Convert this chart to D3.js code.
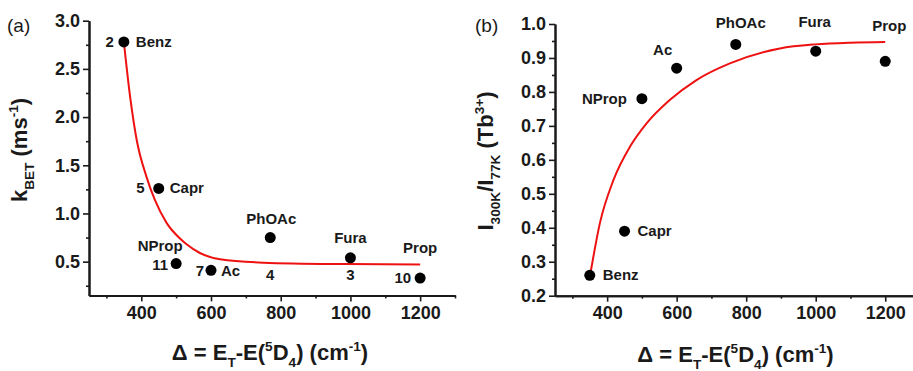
<!DOCTYPE html>
<html>
<head>
<meta charset="utf-8">
<script src="https://cdn.jsdelivr.net/npm/d3@7"></script>
<style>
  body { margin: 0; background: #fff; }
  svg { display: block; font-family: 'Liberation Sans', Arial, sans-serif; }
</style>
</head>
<body>
<div id="chart"></div>
<script>
// Ligands and their triplet-to-5D4 energy gap (cm-1)
const ligandNames = ['Benz', 'Capr', 'NProp', 'Ac', 'PhOAc', 'Fura', 'Prop']
const compoundNumbers = ['2', '5', '11', '7', '4', '3', '10']
const deltaValues = [350, 450, 500, 600, 770, 1000, 1200]

// (a) back energy transfer rate, ms-1
const kBetValues = [2.78, 1.26, 0.48, 0.41, 0.75, 0.54, 0.33]
// (b) I300K / I77K ratio
const ratioValues = [0.26, 0.39, 0.78, 0.87, 0.94, 0.92, 0.89]

// fitted curves
const kBetFitX = [350, 368, 387, 415, 439, 473, 511, 530, 568, 626, 750, 990, 1200]
const kBetFitY = [2.78, 2.21, 1.76, 1.38, 1.14, 0.90, 0.74, 0.68, 0.59, 0.525, 0.49, 0.475, 0.47]
const ratioFitX = [352, 379, 418, 466, 514, 580, 657, 753, 897, 1000, 1100, 1200]
const ratioFitY = [0.266, 0.413, 0.54, 0.639, 0.708, 0.776, 0.835, 0.884, 0.928, 0.940, 0.945, 0.947]

// ticks
const xTicks = [400, 600, 800, 1000, 1200]
const xMinorTicks = [300, 500, 700, 900, 1100, 1300]
const kBetTicks = [0.5, 1.0, 1.5, 2.0, 2.5, 3.0]
const kBetMinorTicks = [0.25, 0.75, 1.25, 1.75, 2.25, 2.75]
const ratioTicks = [0.2, 0.3, 0.4, 0.5, 0.6, 0.7, 0.8, 0.9, 1.0]
const ratioMinorTicks = [0.25, 0.35, 0.45, 0.55, 0.65, 0.75, 0.85, 0.95]

const ink = '#1a1a1a'

const svg = d3.select('#chart')
  .append('svg')
  .attr('width', 913)
  .attr('height', 371)

// Write text with sub/superscript parts into a text element
function richText(sel, parts, size) {
  let shift = 0
  parts.forEach(([txt, kind]) => {
    const target = kind === 'sub' ? 0.3 * size : kind === 'sup' ? -0.42 * size : 0
    sel.append('tspan')
      .attr('dy', target - shift)
      .attr('font-size', kind ? size * 0.62 : size)
      .text(txt)
    shift = target
  })
}

const xTitleParts = [['Δ = E'], ['T', 'sub'], ['-E('], ['5', 'sup'], ['D'], ['4', 'sub'], [') (cm'], ['-1', 'sup'], [')']]

function styleTickText(a) {
  a.selectAll('.tick text')
    .attr('font-size', 18)
    .attr('font-weight', 'bold')
    .attr('font-family', 'Liberation Sans, Arial, sans-serif')
    .attr('fill', ink)
}

function drawPanel(p) {
  const x = d3.scaleLinear().domain([250, 1300]).range(p.xRange)
  const y = d3.scaleLinear().domain(p.yDomain).range(p.yRange)
  const g = svg.append('g')

  // X axis, major then minor ticks
  g.append('g')
    .attr('transform', `translate(0,${p.yRange[0]})`)
    .call(d3.axisBottom(x).tickValues(xTicks).tickSize(6).tickSizeOuter(0).tickPadding(5)
      .tickFormat(d3.format('d')))
    .call(styleTickText)
  g.append('g')
    .attr('transform', `translate(0,${p.yRange[0]})`)
    .call(d3.axisBottom(x).tickValues(xMinorTicks).tickSize(3).tickSizeOuter(0).tickFormat(''))

  // Y axis
  g.append('g')
    .attr('transform', `translate(${p.xRange[0]},0)`)
    .call(d3.axisLeft(y).tickValues(p.yTicks).tickSize(6).tickSizeOuter(0).tickPadding(3)
      .tickFormat(d3.format('.1f')))
    .call(styleTickText)
  g.append('g')
    .attr('transform', `translate(${p.xRange[0]},0)`)
    .call(d3.axisLeft(y).tickValues(p.yMinorTicks).tickSize(3).tickSizeOuter(0).tickFormat(''))

  g.selectAll('.domain').attr('stroke', ink).attr('stroke-width', 2)
  g.selectAll('.tick line').attr('stroke', ink).attr('stroke-width', 1.6)

  // Fit curve
  const fit = d3.zip(p.fitX, p.fitY)
  g.append('path')
    .datum(fit)
    .attr('fill', 'none')
    .attr('stroke', '#ee1111')
    .attr('stroke-width', 2)
    .attr('d', d3.line().x(d => x(d[0])).y(d => y(d[1])).curve(d3.curveMonotoneX))

  // Points
  const pts = deltaValues.map((d, i) => ({ dx: d, v: p.values[i], name: ligandNames[i], num: compoundNumbers[i] }))
  g.selectAll('circle.pt')
    .data(pts)
    .enter()
    .append('circle')
    .attr('class', 'pt')
    .attr('cx', d => x(d.dx))
    .attr('cy', d => y(d.v))
    .attr('r', 5.5)
    .attr('fill', '#000')

  // Ligand names and compound numbers
  pts.forEach(d => {
    const lab = p.nameLayout[d.name]
    g.append('text')
      .attr('x', x(d.dx) + lab[0])
      .attr('y', y(d.v) + lab[1])
      .attr('text-anchor', lab[2])
      .attr('font-size', 15)
      .attr('font-weight', 'bold')
      .attr('fill', ink)
      .text(d.name)
    const nl = p.numLayout && p.numLayout[d.name]
    if (nl) {
      g.append('text')
        .attr('x', x(d.dx) + nl[0])
        .attr('y', y(d.v) + nl[1])
        .attr('text-anchor', nl[2])
        .attr('font-size', 15)
        .attr('font-weight', 'bold')
        .attr('fill', ink)
        .text(d.num)
    }
  })

  // Axis titles
  g.append('text')
    .attr('x', (p.xRange[0] + p.xRange[1]) / 2 - 2)
    .attr('y', p.xTitleY)
    .attr('text-anchor', 'middle')
    .attr('font-weight', 'bold')
    .attr('fill', ink)
    .style('white-space', 'pre')
    .call(t => richText(t, xTitleParts, 22))

  g.append('text')
    .attr('transform', `translate(${p.yTitleX},${p.yTitleY}) rotate(-90)`)
    .attr('text-anchor', 'middle')
    .attr('font-weight', 'bold')
    .attr('fill', ink)
    .style('white-space', 'pre')
    .call(t => richText(t, p.yTitleParts, 22))

  // Panel tag
  g.append('text')
    .attr('x', p.tagX)
    .attr('y', 32)
    .attr('font-size', 19)
    .attr('fill', ink)
    .text(p.tag)
}

drawPanel({
  tag: '(a)', tagX: 7,
  xRange: [89, 455], yRange: [295.4, 20.7], yDomain: [0.15, 3.0],
  yTicks: kBetTicks, yMinorTicks: kBetMinorTicks,
  values: kBetValues, fitX: kBetFitX, fitY: kBetFitY,
  xTitleY: 360, yTitleX: 27, yTitleY: 150,
  yTitleParts: [['k'], ['BET', 'sub'], [' (ms'], ['-1', 'sup'], [')']],
  nameLayout: {
    Benz: [12, 5, 'start'], Capr: [11, 5, 'start'], NProp: [-16, -13, 'middle'],
    Ac: [10, 6, 'start'], PhOAc: [1, -14, 'middle'], Fura: [0, -15, 'middle'], Prop: [0, -25, 'middle']
  },
  numLayout: {
    Benz: [-10, 5, 'end'], Capr: [-14, 5, 'end'], NProp: [-8, 6, 'end'],
    Ac: [-7, 6, 'end'], PhOAc: [0, 42, 'middle'], Fura: [0, 22, 'middle'], Prop: [-9, 5, 'end']
  }
})

drawPanel({
  tag: '(b)', tagX: 475,
  xRange: [555, 920], yRange: [295.7, 24], yDomain: [0.2, 1.0],
  yTicks: ratioTicks, yMinorTicks: ratioMinorTicks,
  values: ratioValues, fitX: ratioFitX, fitY: ratioFitY,
  xTitleY: 362, yTitleX: 493, yTitleY: 161,
  yTitleParts: [['I'], ['300K', 'sub'], ['/I'], ['77K', 'sub'], [' (Tb'], ['3+', 'sup'], [')']],
  nameLayout: {
    Benz: [13, 5, 'start'], Capr: [13, 5, 'start'], NProp: [-15, 5, 'end'],
    Ac: [-14, -13, 'middle'], PhOAc: [5, -16, 'middle'], Fura: [-1, -24, 'middle'], Prop: [4, -30, 'middle']
  }
})
</script>
</body>
</html>
